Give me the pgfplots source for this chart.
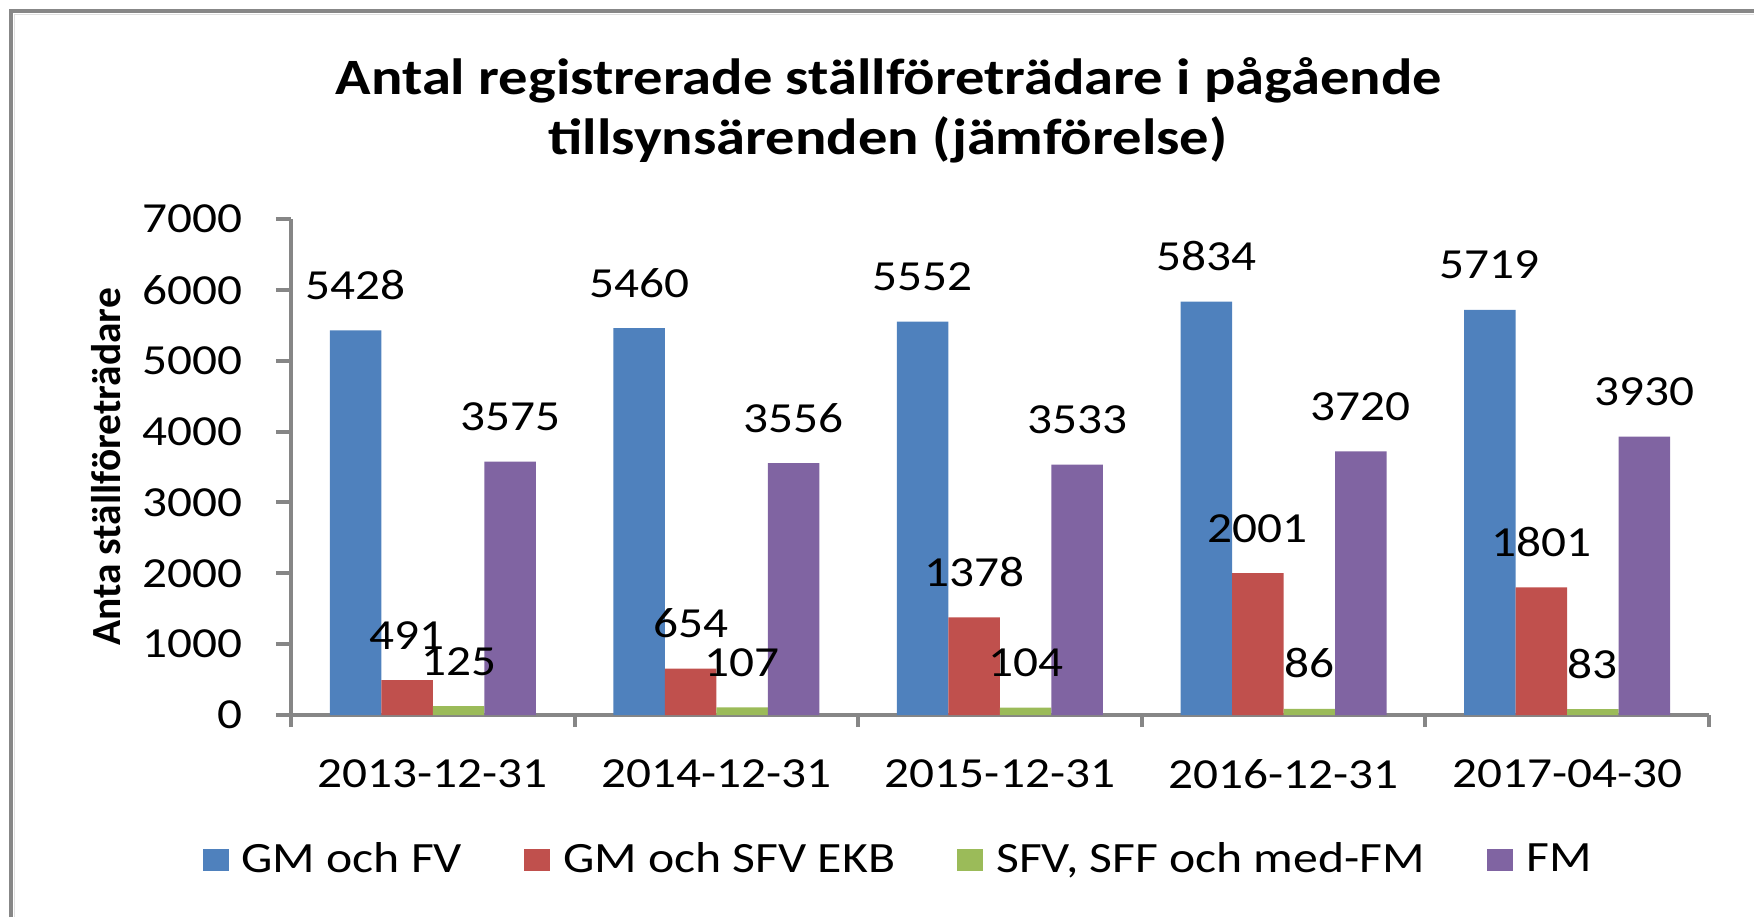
\documentclass[border=0pt]{standalone}
\usepackage{fontspec}
\setmainfont{Carlito}[FakeStretch=1.15]
\newfontfamily\ylabfont{Carlito}
\usepackage{pgfplots}
\pgfplotsset{compat=1.18}
\definecolor{cBlue}{HTML}{4F81BD}
\definecolor{cRed}{HTML}{C0504D}
\definecolor{cGreen}{HTML}{9BBB59}
\definecolor{cPurple}{HTML}{8064A2}
\definecolor{cAxis}{HTML}{868686}
\definecolor{cFrame}{HTML}{878787}
\newcommand{\tickfont}{\fontsize{12.2}{14}\selectfont}
\newcommand{\legfont}{\fontsize{12.3}{14}\selectfont}

\begin{document}
\begin{tikzpicture}
\path[use as bounding box] (0,0) rectangle (17.54,9.17);
% outer frame (left and top edge only visible)
\draw[cFrame, line width=0.04cm] (0.11,0) -- (0.11,9.06) -- (17.54,9.06);
\draw[black!12, line width=0.012cm] (0.145,0) -- (0.145,9.025) -- (17.54,9.025);

\node[anchor=base, font=\fontsize{14.5}{17}\selectfont\bfseries] at (8.89,8.22)
  {Antal registrerade ställföreträdare i pågående};
\node[anchor=base, font=\fontsize{14.5}{17}\selectfont\bfseries] at (8.88,7.62)
  {tillsynsärenden (jämförelse)};

\begin{axis}[
    at={(2.91cm,2.02cm)}, anchor=south west,
    scale only axis, width=14.18cm, height=4.96cm,
    ybar=0pt, bar width=0.515cm,
    xmin=0.5, xmax=5.5, ymin=0, ymax=7000,
    axis x line*=bottom, axis y line*=left,
    axis line style={cAxis, line width=0.04cm},
    tick align=outside,
    xtick={1,2,3,4,5},
    xticklabels={2013-12-31,2014-12-31,2015-12-31,2016-12-31,2017-04-30},
    major x tick style={draw=none},
    minor xtick={0.5,1.5,2.5,3.5,4.5,5.5},
    minor tick length=0.12cm,
    minor x tick style={cAxis, line width=0.04cm},
    ytick={0,1000,...,7000},
    major tick length=0.15cm,
    major y tick style={cAxis, line width=0.04cm},
    ticklabel style={font=\tickfont, text=black},
    /pgf/number format/assume math mode=true,
    /pgf/number format/1000 sep={},
    yticklabel style={anchor=east, inner sep=0pt, xshift=-0.325cm},
    xticklabel style={anchor=north, inner sep=0pt, yshift=-0.285cm},
    ylabel={\ylabfont\bfseries Anta ställföreträdare},
    ylabel style={at={(axis description cs:-0.1305,0.5)}, anchor=center,
      font=\fontsize{11.8}{14}\selectfont, inner sep=0pt},
    nodes near coords,
    nodes near coords style={font=\tickfont, anchor=south, inner sep=0pt,
      yshift=0.30cm, /pgf/number format/fixed, /pgf/number format/precision=0,
      /pgf/number format/1000 sep={}},
    legend columns=4,
    legend style={at={(axis description cs:0.4274,-0.293)}, anchor=center,
      draw=none, font=\legfont, inner sep=0pt, row sep=0pt,
      nodes={inner sep=0pt},
      /tikz/every odd column/.append style={column sep=0.13cm},
      /tikz/every even column/.append style={column sep=0.62cm}},
    legend image code/.code={\fill[#1] (0cm,-0.11cm) rectangle (0.26cm,0.11cm);},
]
\addplot[fill=cBlue, draw=none] coordinates {(1,5428) (2,5460) (3,5552) (4,5834) (5,5719)};
\addplot[fill=cRed, draw=none] coordinates {(1,491) (2,654) (3,1378) (4,2001) (5,1801)};
\addplot[fill=cGreen, draw=none] coordinates {(1,125) (2,107) (3,104) (4,86) (5,83)};
\addplot[fill=cPurple, draw=none] coordinates {(1,3575) (2,3556) (3,3533) (4,3720) (5,3930)};
\legend{GM och FV, GM och SFV EKB, {SFV, SFF och med-FM}, FM}
\end{axis}
\end{tikzpicture}
\end{document}
